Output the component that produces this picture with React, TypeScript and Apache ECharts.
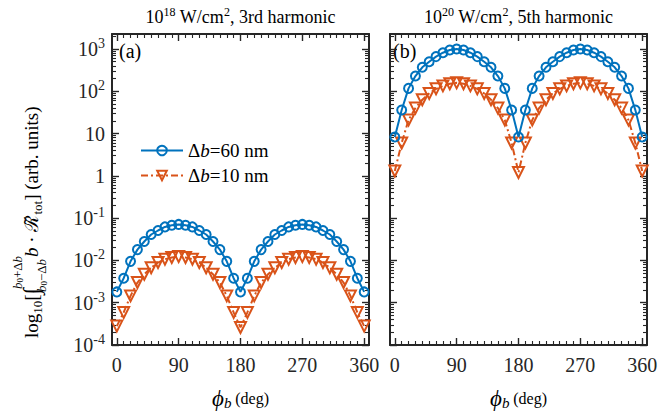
import React, { useEffect, useRef } from 'react';
import * as echarts from 'echarts';

// ---------- data ----------
const angles = [0, 10, 20, 30, 40, 50, 60, 70, 80, 90, 100, 110, 120, 130, 140, 150, 160, 170, 180,
  190, 200, 210, 220, 230, 240, 250, 260, 270, 280, 290, 300, 310, 320, 330, 340, 350, 360];

// panel (a): 10^18 W/cm^2, 3rd harmonic
const blueA = [1.8e-3, 3.8e-3, 9.5e-3, 0.018, 0.028, 0.041, 0.051, 0.062, 0.068, 0.071, 0.068, 0.062, 0.051,
  0.041, 0.028, 0.018, 9.5e-3, 3.8e-3, 1.8e-3, 3.8e-3, 9.5e-3, 0.018, 0.028, 0.041, 0.051, 0.062, 0.068,
  0.071, 0.068, 0.062, 0.051, 0.041, 0.028, 0.018, 9.5e-3, 3.8e-3, 1.8e-3];
const orangeA = [2.8e-4, 5.9e-4, 1.45e-3, 3.0e-3, 4.7e-3, 6.7e-3, 8.9e-3, 0.0107, 0.0117, 0.0123, 0.0117,
  0.0107, 8.9e-3, 6.7e-3, 4.7e-3, 3.0e-3, 1.45e-3, 5.9e-4, 2.6e-4, 5.9e-4, 1.45e-3, 3.0e-3, 4.7e-3, 6.7e-3,
  8.9e-3, 0.0107, 0.0117, 0.0123, 0.0117, 0.0107, 8.9e-3, 6.7e-3, 4.7e-3, 3.0e-3, 1.45e-3, 5.9e-4, 2.8e-4];

// panel (b): 10^20 W/cm^2, 5th harmonic
const blueB = [8.3, 36, 117, 229, 369, 500, 660, 815, 946, 1000, 946, 815, 660, 500, 369, 229, 117, 36, 8.3,
  36, 117, 229, 369, 500, 660, 815, 946, 1000, 946, 815, 660, 500, 369, 229, 117, 36, 8.3];
const orangeB = [1.3, 6.0, 21, 40, 63, 89, 114, 134, 150, 158, 150, 134, 114, 89, 63, 40, 21, 6.0, 1.2,
  6.0, 21, 40, 63, 89, 114, 134, 150, 158, 150, 134, 114, 89, 63, 40, 21, 6.0, 1.3];

const xMajorTicks = [0, 90, 180, 270, 360];
const yMajorExps = [-4, -3, -2, -1, 0, 1, 2, 3];
const legendNames = ['Δb=60 nm', 'Δb=10 nm'];
const titleExps = ['18', '20'];
const titleHarmonics = ['3rd', '5th'];
const panelLabels = ['(a)', '(b)'];

// ---------- style ----------
const FONT = '"Liberation Serif", "Times New Roman", serif';
const AXIS_COLOR = '#262626';
const BLUE = '#0072BD';
const ORANGE = '#D95319';
const X_MIN = -7;
const X_MAX = 367;
const Y_MIN = -4;
const Y_MAX = 3.354;
const GRIDS = [
  { left: 112, top: 34, width: 257, height: 312 },
  { left: 390, top: 34, width: 257, height: 312 },
];

const xMinorTicks: number[] = [];
for (let a = 10; a < 360; a += 10) if (a % 90 !== 0) xMinorTicks.push(a);
const yMinorTicks: number[] = [];
for (let e = -4; e <= 3; e++) {
  for (let k = 2; k <= 9; k++) {
    const v = e + Math.log10(k);
    if (v < Y_MAX) yMinorTicks.push(v);
  }
}

function measure(text: string, size: number, italic = false) {
  const c = document.createElement('canvas').getContext('2d');
  if (!c) return text.length * size * 0.5;
  c.font = `${italic ? 'italic ' : ''}${size}px ${FONT}`;
  return c.measureText(text).width;
}

function xAxesFor(gi: number) {
  const common = {
    type: 'value', gridIndex: gi, min: X_MIN, max: X_MAX,
    splitLine: { show: false },
    axisLine: { show: false, onZero: false },
    axisTick: { show: false },
    axisLabel: { show: false },
  };
  const line = { show: true, onZero: false, lineStyle: { color: AXIS_COLOR, width: 2 } };
  const major = { show: true, inside: true, length: 7, customValues: xMajorTicks, lineStyle: { color: AXIS_COLOR, width: 1.4 } };
  const minor = { show: true, inside: true, length: 4, customValues: xMinorTicks, lineStyle: { color: AXIS_COLOR, width: 1.1 } };
  return [
    {
      ...common, position: 'bottom', axisLine: line, axisTick: major,
      axisLabel: {
        show: true, customValues: xMajorTicks, fontSize: 20, fontFamily: FONT, color: AXIS_COLOR, margin: 10,
      },
      name: '{i|ϕ}{sub|b}{n| }{s|(deg)}', nameLocation: 'middle', nameGap: 42,
      nameTextStyle: {
        rich: {
          i: { fontSize: 23, fontStyle: 'italic', fontFamily: FONT, color: '#000' },
          sub: { fontSize: 15, fontStyle: 'italic', fontFamily: FONT, color: '#000', verticalAlign: 'bottom', lineHeight: 18 },
          n: { fontSize: 15, fontFamily: FONT, color: '#000' },
          s: { fontSize: 16, fontFamily: FONT, color: '#000' },
        },
      },
    },
    { ...common, position: 'bottom', axisTick: minor },
    { ...common, position: 'top', axisLine: line, axisTick: major },
    { ...common, position: 'top', axisTick: minor },
  ];
}

function yAxesFor(gi: number) {
  const common = {
    type: 'value', gridIndex: gi, min: Y_MIN, max: Y_MAX,
    splitLine: { show: false },
    axisLine: { show: false, onZero: false },
    axisTick: { show: false },
    axisLabel: { show: false },
  };
  const line = { show: true, onZero: false, lineStyle: { color: AXIS_COLOR, width: 2 } };
  const major = { show: true, inside: true, length: 7, customValues: yMajorExps, lineStyle: { color: AXIS_COLOR, width: 1.4 } };
  const minor = { show: true, inside: true, length: 4, customValues: yMinorTicks, lineStyle: { color: AXIS_COLOR, width: 1.1 } };
  return [
    {
      ...common, position: 'left', axisLine: line, axisTick: major,
      axisLabel: gi === 0 ? {
        show: true, customValues: yMajorExps, margin: 7,
        formatter: (v: number) => {
          const n = Math.round(v);
          if (n === 0) return '{b|1}';
          if (n === 1) return '{b|10}';
          return `{b|10}{s|${n}}`;
        },
        rich: {
          b: { fontSize: 20, fontFamily: FONT, color: AXIS_COLOR, lineHeight: 25 },
          s: { fontSize: 14, fontFamily: FONT, color: AXIS_COLOR, verticalAlign: 'top', lineHeight: 14 },
        },
      } : { show: false },
    },
    { ...common, position: 'left', axisTick: minor },
    { ...common, position: 'right', axisLine: line, axisTick: major },
    { ...common, position: 'right', axisTick: minor },
  ];
}

function lineSeries(name: string, vals: number[], gi: number, color: string, isBlue: boolean) {
  return {
    type: 'line', name, xAxisIndex: gi * 4, yAxisIndex: gi * 4,
    data: angles.map((a, i) => [a, Math.log10(vals[i])]),
    symbol: isBlue ? 'circle' : 'triangle',
    symbolSize: isBlue ? 9 : 11,
    symbolRotate: isBlue ? 0 : 180,
    showSymbol: true,
    itemStyle: { color: 'rgba(255,255,255,0)', borderColor: color, borderWidth: 2 },
    lineStyle: { color, width: 2, type: isBlue ? 'solid' : [7, 3, 2, 3] },
    emphasis: { disabled: true },
    z: isBlue ? 3 : 2,
  };
}

function yLabelGroup() {
  const children: any[] = [];
  let cx = 0;
  const add = (text: string, size: number, italic: boolean, dy: number) => {
    children.push({
      type: 'text', x: cx, y: dy,
      style: {
        text, font: `${italic ? 'italic ' : ''}${size}px ${FONT}`, fill: '#000',
        textAlign: 'left', textVerticalAlign: 'middle', align: 'left', verticalAlign: 'middle',
      },
    });
    cx += measure(text, size, italic);
  };
  add('log', 19, false, 0);
  add('10', 13, false, 6);
  add('[', 19, false, 0);
  add('∫', 23, false, 0);
  const limRich = {
    i: { fontSize: 13, fontStyle: 'italic', fontFamily: FONT, fill: '#000' },
    z: { fontSize: 9, fontFamily: FONT, fill: '#000', verticalAlign: 'bottom', lineHeight: 15 },
    n: { fontSize: 13, fontFamily: FONT, fill: '#000' },
  };
  const limW = measure('b', 13, true) * 2 + measure('0', 9) + measure('+Δ', 13);
  children.push({
    type: 'text', x: cx - 1, y: -14,
    style: { text: '{i|b}{z|0}{n|+Δ}{i|b}', rich: limRich, textAlign: 'left', textVerticalAlign: 'middle', align: 'left', verticalAlign: 'middle' },
  });
  children.push({
    type: 'text', x: cx - 4, y: 10,
    style: { text: '{i|b}{z|0}{n|−Δ}{i|b}', rich: limRich, textAlign: 'left', textVerticalAlign: 'middle', align: 'left', verticalAlign: 'middle' },
  });
  cx += limW - 2;
  add('b', 19, true, 0);
  add(' · ', 19, false, 0);
  add('ℛ̃', 19, false, 0);
  add('tot', 13, false, 6);
  add('] (arb. units)', 19, false, 0);
  return { type: 'group', x: 31, y: 338, rotation: Math.PI / 2, children };
}

function titleText(gi: number) {
  const g = GRIDS[gi];
  return {
    type: 'text', x: g.left + g.width / 2, y: 17,
    style: {
      text: `{n|10}{s|${titleExps[gi]}}{n| W/cm}{s|2}{n|, ${titleHarmonics[gi]} harmonic}`,
      rich: {
        n: { fontSize: 18, fontFamily: FONT, fill: '#000', lineHeight: 22 },
        s: { fontSize: 12, fontFamily: FONT, fill: '#000', verticalAlign: 'top', lineHeight: 12 },
      },
      textAlign: 'center', textVerticalAlign: 'middle', align: 'center', verticalAlign: 'middle',
    },
  };
}

export default function App() {
  const ref = useRef<HTMLDivElement>(null);
  useEffect(() => {
    if (!ref.current) return;
    const chart = echarts.init(ref.current, undefined, { renderer: 'svg' });
    const option: any = {
      animation: false,
      backgroundColor: '#fff',
      grid: GRIDS,
      xAxis: [...xAxesFor(0), ...xAxesFor(1)],
      yAxis: [...yAxesFor(0), ...yAxesFor(1)],
      legend: {
        data: legendNames,
        orient: 'vertical',
        left: 135, top: 136,
        itemWidth: 42, itemHeight: 12, itemGap: 6,
        textStyle: {
          fontFamily: FONT, fontSize: 19, color: '#000',
          rich: {
            n: { fontFamily: FONT, fontSize: 19, color: '#000' },
            i: { fontFamily: FONT, fontSize: 19, fontStyle: 'italic', color: '#000' },
          },
        },
        formatter: (name: string) => `{n|Δ}{i|b}{n|${name.slice(2)}}`,
      },
      series: [
        lineSeries(legendNames[0], blueA, 0, BLUE, true),
        lineSeries(legendNames[1], orangeA, 0, ORANGE, false),
        lineSeries(legendNames[0], blueB, 1, BLUE, true),
        lineSeries(legendNames[1], orangeB, 1, ORANGE, false),
      ],
      graphic: [
        titleText(0),
        titleText(1),
        {
          type: 'text', x: GRIDS[0].left + 7, y: 51,
          style: { text: panelLabels[0], font: `20px ${FONT}`, fill: '#000', textVerticalAlign: 'middle', verticalAlign: 'middle' },
        },
        {
          type: 'text', x: GRIDS[1].left + 3, y: 51,
          style: { text: panelLabels[1], font: `20px ${FONT}`, fill: '#000', textVerticalAlign: 'middle', verticalAlign: 'middle' },
        },
        yLabelGroup(),
      ],
    };
    chart.setOption(option);
    return () => chart.dispose();
  }, []);
  return <div ref={ref} style={{ position: 'fixed', left: 0, top: 0, width: 662, height: 415 }} />;
}
